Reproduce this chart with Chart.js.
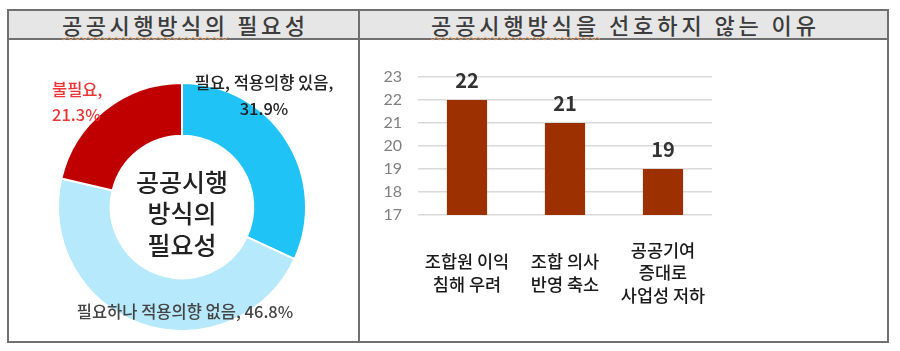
<!DOCTYPE html>
<html><head><meta charset="utf-8">
<script src="https://cdn.jsdelivr.net/npm/chart.js@4/dist/chart.umd.min.js"></script>
<style>
html,body{margin:0;padding:0;background:#fff;width:900px;height:351px;overflow:hidden;}
.abs{position:absolute;box-sizing:border-box;}
#box{left:7px;top:9px;width:882px;height:334px;border:2px solid #707070;}
#hdr{left:9px;top:11px;width:878px;height:29px;background:#e6e6e6;border-bottom:2px solid #707070;}
#vline{left:358px;top:11px;width:2px;height:330px;background:#707070;}
.title{top:11px;height:27px;line-height:27px;text-align:center;font-family:"Noto Sans CJK KR",sans-serif;font-size:22px;font-weight:500;color:#3c3c3c;white-space:pre;}
.title .tx{display:inline-block;}
.title span.sp{text-decoration:underline wavy #f2a561;text-decoration-thickness:1px;text-underline-offset:2px;}
#t1{left:9px;width:349px;}
#t2{left:360px;width:527px;}
#c1wrap{left:9px;top:40px;width:349px;height:301px;}
#c2wrap{left:360px;top:40px;width:527px;height:301px;}
</style></head>
<body>
<div id="box" class="abs"></div>
<div id="hdr" class="abs"></div>
<div id="vline" class="abs"></div>
<div id="t1" class="abs title"><span class="tx" data-w="243"><span class="sp">공공시행방식의</span> 필요성</span></div>
<div id="t2" class="abs title"><span class="tx" data-w="385"><span class="sp">공공시행방식을</span> 선호하지 않는 이유</span></div>
<div id="c1wrap" class="abs"><canvas id="c1" width="349" height="301"></canvas></div>
<div id="c2wrap" class="abs"><canvas id="c2" width="527" height="301"></canvas></div>
<script>
// ---- Doughnut data ----
const needCategories = ['필요, 적용의향 있음', '필요하나 적용의향 없음', '불필요'];
const needValues = [31.9, 46.8, 21.3];
const centerTextLines = ['공공시행', '방식의', '필요성'];

// ---- Bar data ----
const reasonCategories = [['조합원 이익', '침해 우려'], ['조합 의사', '반영 축소'], ['공공기여', '증대로', '사업성 저하']];
const reasonValues = [22, 21, 19];
const reasonTicks = [17, 18, 19, 20, 21, 22, 23];

const KR = '"Noto Sans CJK KR", sans-serif';

// fit header titles to the width they take in the reference
document.querySelectorAll('.title .tx').forEach(el => {
  const target = +el.dataset.w;
  const n = el.textContent.length;
  const natural = el.getBoundingClientRect().width;
  const ls = (target - natural) / (n - 1);
  el.style.letterSpacing = ls + 'px';
  el.style.marginRight = (-ls) + 'px';
});

// labels for doughnut: style/placement (relative to arc center)
const donutLabelPlugin = {
  id: 'donutLabels',
  afterDraw(chart) {
    const ctx = chart.ctx;
    const meta = chart.getDatasetMeta(0);
    const arc0 = meta.data[0];
    const cx = arc0.x, cy = arc0.y;
    const place = [
      {dx: 82, dys: [-124, -98], align: 'center', color: '#222', split: true},
      {dx: 3, dys: [105], align: 'center', color: '#444', split: false},
      {dx: -130, dys: [-117, -92], align: 'left', color: '#ee3535', split: true}
    ];
    ctx.save();
    ctx.font = '500 16.5px ' + KR;
    ctx.textBaseline = 'middle';
    needCategories.forEach((cat, i) => {
      const p = place[i];
      const lines = p.split ? [cat + ',', needValues[i].toFixed(1) + '%'] : [cat + ', ' + needValues[i].toFixed(1) + '%'];
      ctx.fillStyle = p.color;
      ctx.textAlign = p.align;
      lines.forEach((t, k) => ctx.fillText(t, cx + p.dx, cy + p.dys[k]));
    });
    ctx.font = '500 25px ' + KR;
    ctx.fillStyle = '#222';
    ctx.textAlign = 'center';
    centerTextLines.forEach((t, k) => ctx.fillText(t, cx, cy - 25 + k * 31.5));
    ctx.restore();
  }
};

new Chart(document.getElementById('c1'), {
  type: 'doughnut',
  data: {
    labels: needCategories,
    datasets: [{
      data: needValues,
      backgroundColor: ['#1fc3f5', '#b6e9fb', '#c00000'],
      borderColor: '#ffffff',
      borderWidth: 2
    }]
  },
  options: {
    responsive: false,
    animation: false,
    cutout: '57.5%',
    layout: {padding: {left: 48, top: 42, right: 51, bottom: 9}},
    plugins: {legend: {display: false}, tooltip: {enabled: false}}
  },
  plugins: [donutLabelPlugin]
});

const barValuePlugin = {
  id: 'barValues',
  afterDatasetsDraw(chart) {
    const ctx = chart.ctx;
    const meta = chart.getDatasetMeta(0);
    ctx.save();
    ctx.font = 'bold 20px ' + KR;
    ctx.fillStyle = '#333';
    ctx.textAlign = 'center';
    ctx.textBaseline = 'middle';
    meta.data.forEach((bar, i) => {
      ctx.fillText(String(reasonValues[i]), bar.x, bar.y - 20);
    });
    ctx.restore();
  }
};

new Chart(document.getElementById('c2'), {
  type: 'bar',
  data: {
    labels: reasonCategories,
    datasets: [{
      data: reasonValues,
      backgroundColor: '#9c3000',
      borderWidth: 0,
      categoryPercentage: 1,
      barPercentage: 0.41
    }]
  },
  options: {
    responsive: false,
    animation: false,
    layout: {padding: {left: 10, top: 37, right: 175, bottom: 26}},
    scales: {
      x: {
        grid: {display: false, drawTicks: false},
        border: {display: false},
        ticks: {
          padding: 35,
          crossAlign: 'center',
          color: '#1a1a1a',
          font: {family: KR, size: 17.5, weight: '500', lineHeight: 1.3}
        },
        afterFit(s) { s.height = 100; }
      },
      y: {
        min: reasonTicks[0],
        max: reasonTicks[reasonTicks.length - 1],
        afterBuildTicks(s) { s.ticks = reasonTicks.map(v => ({value: v})); },
        grid: {color: '#d9d9d9', lineWidth: 1.5, drawTicks: false},
        border: {display: false},
        ticks: {
          padding: 16,
          color: '#7f7f7f',
          font: {family: 'Lato, sans-serif', size: 16}
        },
        afterFit(s) { s.width = 48; }
      }
    },
    plugins: {legend: {display: false}, tooltip: {enabled: false}}
  },
  plugins: [barValuePlugin]
});
</script>
</body></html>
